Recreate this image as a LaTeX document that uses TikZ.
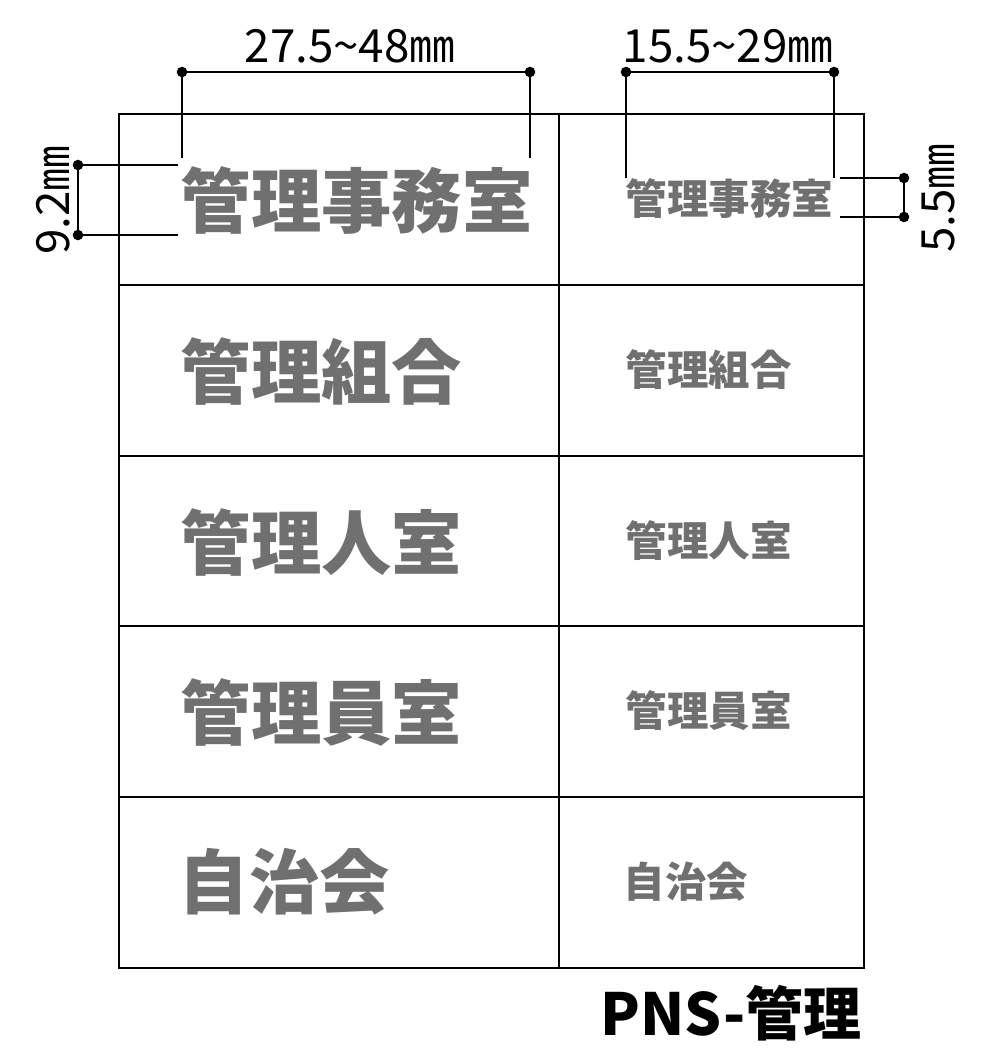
\documentclass[tikz,border=0pt]{standalone}
\usepackage{fontspec}
\setmainfont{Noto Sans CJK JP}
\begin{document}
\begin{tikzpicture}[x=0.01cm,y=-0.01cm,
  big/.style={anchor=west,text=signgray,font=\fontsize{20}{20}\selectfont\bfseries,inner sep=0},
  small/.style={anchor=west,text=signgray,font=\fontsize{11.8}{12}\selectfont\bfseries,inner sep=0},
  dim/.style={line width=0.5pt},
  dot/.style={circle,fill=black,inner sep=0,minimum size=3pt},
  dimlab/.style={font=\fontsize{13}{13}\selectfont,inner sep=0}]
\definecolor{signgray}{HTML}{707070}
\useasboundingbox (0,0) rectangle (1000,1063);
\draw[line width=0.7pt] (119,114) rectangle (864,968);
\draw[line width=0.5pt] (559,114) -- (559,968);
\foreach \y in {285,456,626,797} \draw[line width=0.5pt] (119,\y) -- (864,\y);
\node[big] (l1) at (180,201) {管理事務室};
\node[big] (l2) at (180,371) {管理組合};
\node[big] (l3) at (180,542) {管理人室};
\node[big] (l4) at (180,712) {管理員室};
\node[big] (l5) at (178,882) {自治会};
\node[small] (r1) at (625,199) {管理事務室};
\node[small] (r2) at (625,370) {管理組合};
\node[small] (r3) at (625,541) {管理人室};
\node[small] (r4) at (625,711) {管理員室};
\node[small] (r5) at (623,882) {自治会};
\node[anchor=east,font=\fontsize{16.5}{17}\selectfont\bfseries,inner sep=0] (pns) at (862,1013) {PNS-管理};
% top-left dimension
\node[dot] (a1) at (182,72) {}; \node[dot] (a2) at (530,72) {};
\draw[dim] (a1.center) -- (a2.center);
\draw[dim] (a1.center) -- (182,158); \draw[dim] (a2.center) -- (530,158);
\node[dimlab] (t1) at (350,46) {27.5\textasciitilde48㎜};
% top-right
\node[dot] (b1) at (626,72) {}; \node[dot] (b2) at (834,72) {};
\draw[dim] (b1.center) -- (b2.center);
\draw[dim] (b1.center) -- (626,178); \draw[dim] (b2.center) -- (834,178);
\node[dimlab] (t2) at (728,46) {15.5\textasciitilde29㎜};
% left
\node[dot] (c1) at (78,165) {}; \node[dot] (c2) at (78,235) {};
\draw[dim] (c1.center) -- (c2.center);
\draw[dim] (c1.center) -- (178,165); \draw[dim] (c2.center) -- (178,235);
\node[dimlab,rotate=90] (t3) at (53,200) {9.2㎜};
% right
\node[dot] (d1) at (904,178) {}; \node[dot] (d2) at (904,217) {};
\draw[dim] (d1.center) -- (d2.center);
\draw[dim] (d1.center) -- (840,178); \draw[dim] (d2.center) -- (840,217);
\node[dimlab,rotate=90] (t4) at (938,198) {5.5㎜};
\end{tikzpicture}
\end{document}
